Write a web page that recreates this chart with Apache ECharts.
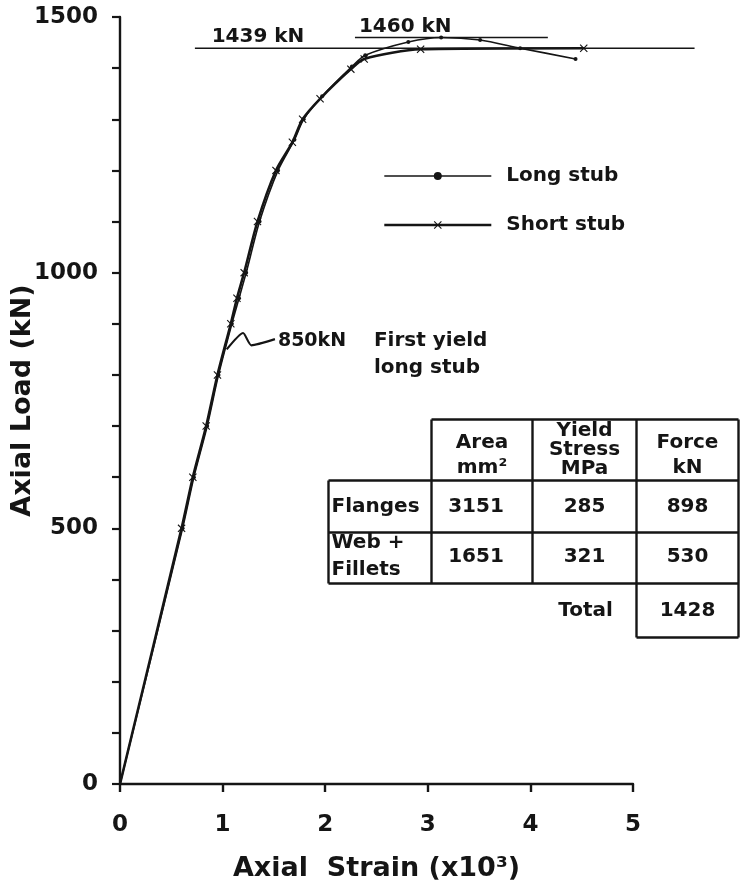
<!DOCTYPE html>
<html>
<head>
<meta charset="utf-8">
<script src="https://cdn.jsdelivr.net/npm/echarts@6/dist/echarts.min.js"></script>
<style>
  html, body { margin: 0; padding: 0; background: #ffffff; }
  #chart { width: 747px; height: 881px; }
</style>
</head>
<body>
<div id="chart"></div>
<script>
// Stub column tests: axial load against axial strain (x10^3)
const strainLong  = [0, 0.61, 0.72, 0.85, 0.96, 1.09, 1.16, 1.23, 1.36, 1.54, 1.70, 1.79, 1.97, 2.26, 2.39, 2.81, 3.13, 3.51, 3.90, 4.44];
const loadLong    = [0, 500, 600, 700, 800, 900, 950, 1000, 1100, 1200, 1260, 1300, 1345, 1403, 1425, 1451, 1460, 1455, 1439, 1418];

const strainShort = [0, 0.60, 0.71, 0.84, 0.95, 1.08, 1.14, 1.21, 1.34, 1.52, 1.68, 1.78, 1.95, 2.25, 2.38, 2.93, 4.52];
const loadShort   = [0, 500, 600, 700, 800, 900, 950, 1000, 1100, 1200, 1255, 1300, 1340, 1398, 1418, 1437, 1439];

// Maximum loads of the two stubs and first yield of the long stub (kN)
const maxLoadShort = 1439;
const maxLoadLong = 1460;
const firstYieldLong = 850;

// Extent of the horizontal reference lines and their label anchors (strain)
const shortMaxLineStrain = [0.73, 1.345, 5.6];
const longMaxLineStrain  = [2.29, 2.78, 4.17];

// Leader from the long-stub curve to the first-yield note
const leaderStrain = [1.04, 1.20, 1.28, 1.51];
const leaderLoad   = [firstYieldLong, 882, 858, 870];

// Axis ticks
const strainTicks = [0, 1, 2, 3, 4, 5];
const loadTicks = [0, 500, 1000, 1500];

// Yield table
const tableHeaders = ['Area\nmm²', 'Yield\nStress\nMPa', 'Force\nkN'];
const tableRows = ['Flanges', 'Web +\nFillets'];
const areaMm2 = [3151, 1651];
const yieldStressMPa = [285, 321];
const forceKN = [898, 530];
const totalForceKN = 1428;

const FONT = '"DejaVu Sans", "Liberation Sans", sans-serif';
const INK = '#151515';
const LONG_WIDTH = 1.6;
const SHORT_WIDTH = 2.6;

const crossSymbol = 'path://M0,1L1,0L5,4L9,0L10,1L6,5L10,9L9,10L5,6L1,10L0,9L4,5Z';

function curve(xs, ys) {
  return xs.map((x, i) => (i === 0 ? { value: [x, ys[i]], symbol: 'none' } : [x, ys[i]]));
}

function refLine(xs, load) {
  return xs.map((x, i) => (i === 1
    ? { value: [x, load], label: { show: true } }
    : [x, load]));
}

const boldText = (size) => ({ fontFamily: FONT, fontWeight: 'bold', fontSize: size, color: INK });

// Table geometry (pixels, relative to the table's top-left corner)
const colX = [0, 103, 204, 308, 410];
const rowY = [0, 61, 113, 164, 218];
const tableLine = { stroke: INK, lineWidth: 2.4, fill: null };

function tableGraphic() {
  const els = [];
  const line = (x1, y1, x2, y2) => els.push({ type: 'line', shape: { x1, y1, x2, y2 }, style: tableLine });
  // header box
  line(colX[1], rowY[0], colX[4], rowY[0]);
  line(colX[1], rowY[0], colX[1], rowY[3]);
  line(colX[2], rowY[0], colX[2], rowY[3]);
  line(colX[3], rowY[0], colX[3], rowY[4]);
  line(colX[4], rowY[0], colX[4], rowY[4]);
  // body
  line(colX[0], rowY[1], colX[4], rowY[1]);
  line(colX[0], rowY[2], colX[4], rowY[2]);
  line(colX[0], rowY[3], colX[4], rowY[3]);
  line(colX[0], rowY[1], colX[0], rowY[3]);
  // total cell
  line(colX[3], rowY[4], colX[4], rowY[4]);

  const text = (str, x, y, align, lh) => els.push({
    type: 'text', x, y,
    style: {
      text: str, align: align, verticalAlign: 'middle',
      font: 'bold 20px ' + FONT, fill: INK, lineHeight: lh || 24
    }
  });
  const headerY = [36, 30, 36];
  const headerLH = [25, 19, 25];
  tableHeaders.forEach((h, i) => {
    text(h, (colX[i + 1] + colX[i + 2]) / 2, headerY[i], 'center', headerLH[i]);
  });
  const rowMid = [87, 137];
  tableRows.forEach((r, i) => {
    text(r, colX[0] + 3, rowMid[i], 'left', 27);
    text(String(areaMm2[i]), (colX[1] + colX[2]) / 2 - 6, rowMid[i], 'center');
    text(String(yieldStressMPa[i]), (colX[2] + colX[3]) / 2, rowMid[i], 'center');
    text(String(forceKN[i]), (colX[3] + colX[4]) / 2, rowMid[i], 'center');
  });
  text('Total', 257, 191, 'center');
  text(String(totalForceKN), (colX[3] + colX[4]) / 2, 191, 'center');
  return { type: 'group', left: 326, top: 417, children: els };
}

const chart = echarts.init(document.getElementById('chart'), null, { renderer: 'canvas' });

chart.setOption({
  animation: false,
  backgroundColor: '#ffffff',
  grid: [
    { left: 120, right: 114, top: 17, bottom: 97, containLabel: false, outerBoundsMode: 'none' },
    { left: 120, width: 615.6, top: 17, bottom: 97, containLabel: false, outerBoundsMode: 'none' }
  ],
  legend: {
    data: [
      { name: 'Long stub', lineStyle: { width: LONG_WIDTH } },
      { name: 'Short stub', lineStyle: { width: SHORT_WIDTH } }
    ],
    orient: 'vertical',
    left: 378,
    top: 161,
    itemWidth: 107,
    itemHeight: 10,
    itemGap: 29,
    selectedMode: false,
    textStyle: Object.assign(boldText(20), { padding: [0, 0, 0, 10] })
  },
  xAxis: [
    {
      type: 'value', gridIndex: 0, min: 0, max: 5, interval: 1,
      name: 'Axial  Strain (x10³)', nameLocation: 'middle', nameGap: 71,
      nameMoveOverlap: false,
      nameTextStyle: boldText(27),
      axisLine: { show: true, onZero: false, lineStyle: { color: INK, width: 2.4 } },
      axisTick: { show: true, length: 8, lineStyle: { color: INK, width: 2.4 } },
      axisLabel: Object.assign(boldText(23), {
        margin: 30,
        formatter: (v) => (strainTicks.indexOf(v) >= 0 ? String(v) : '')
      }),
      splitLine: { show: false }
    },
    { type: 'value', gridIndex: 1, min: 0, max: 6, show: false }
  ],
  yAxis: [
    {
      type: 'value', gridIndex: 0, min: 0, max: 1500, interval: 100,
      name: 'Axial Load (kN)', nameLocation: 'middle', nameGap: 84,
      nameMoveOverlap: false,
      nameTextStyle: boldText(27),
      axisLine: { show: true, onZero: false, lineStyle: { color: INK, width: 2.4 } },
      axisTick: { show: true, length: 8, lineStyle: { color: INK, width: 2.2 } },
      axisLabel: Object.assign(boldText(23), {
        margin: 22,
        formatter: (v) => (loadTicks.indexOf(v) >= 0 ? String(v) : '')
      }),
      splitLine: { show: false }
    },
    { type: 'value', gridIndex: 1, min: 0, max: 1500, show: false }
  ],
  series: [
    {
      name: 'Long stub',
      type: 'line',
      data: curve(strainLong, loadLong),
      smooth: 0.25,
      symbol: 'circle',
      symbolSize: 4,
      itemStyle: { color: INK },
      lineStyle: { color: INK, width: LONG_WIDTH },
      z: 3
    },
    {
      name: 'Short stub',
      type: 'line',
      data: curve(strainShort, loadShort),
      smooth: 0.25,
      symbol: crossSymbol,
      symbolSize: 8,
      itemStyle: { color: INK },
      lineStyle: { color: INK, width: SHORT_WIDTH },
      z: 4
    },
    {
      name: 'short max',
      type: 'line',
      xAxisIndex: 1, yAxisIndex: 1,
      data: refLine(shortMaxLineStrain, maxLoadShort),
      symbol: 'circle', symbolSize: 0,
      lineStyle: { color: INK, width: 1.4 },
      itemStyle: { color: INK },
      label: Object.assign(boldText(20), {
        show: false, position: 'top', distance: 1,
        formatter: (p) => p.value[1] + ' kN'
      }),
      silent: true, z: 2
    },
    {
      name: 'long max',
      type: 'line',
      xAxisIndex: 1, yAxisIndex: 1,
      data: refLine(longMaxLineStrain, maxLoadLong),
      symbol: 'circle', symbolSize: 0,
      lineStyle: { color: INK, width: 1.4 },
      itemStyle: { color: INK },
      label: Object.assign(boldText(20), {
        show: false, position: 'top', distance: 1,
        formatter: (p) => p.value[1] + ' kN'
      }),
      silent: true, z: 2
    },
    {
      name: 'first yield',
      type: 'line',
      data: leaderStrain.map((x, i) => (i === leaderStrain.length - 1
        ? { value: [x, leaderLoad[i]], label: { show: true } }
        : [x, leaderLoad[i]])),
      smooth: 0.2,
      symbol: 'circle', symbolSize: 0,
      lineStyle: { color: INK, width: 2.2 },
      itemStyle: { color: INK },
      label: {
        show: false,
        position: 'right',
        distance: 3,
        offset: [0, 15],
        lineHeight: 27,
        formatter: () => '{v|' + firstYieldLong + 'kN}{t|First yield}\n{v|}{t|long stub}',
        rich: {
          v: Object.assign(boldText(19), { width: 96, lineHeight: 27 }),
          t: Object.assign(boldText(20), { lineHeight: 27 })
        }
      },
      silent: true, z: 2
    }
  ],
  graphic: [tableGraphic()]
});
</script>
</body>
</html>
